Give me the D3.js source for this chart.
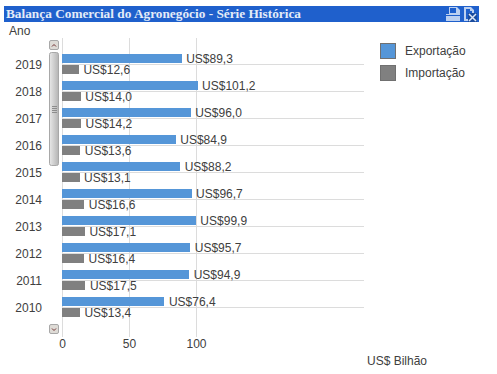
<!DOCTYPE html>
<html>
<head>
<meta charset="utf-8">
<script src="https://cdnjs.cloudflare.com/ajax/libs/d3/7.8.5/d3.min.js"></script>
<style>
  html, body { margin: 0; padding: 0; background: #fff; }
  svg { display: block; }
  text { font-family: "Liberation Sans", Arial, sans-serif; font-size: 12px; fill: #404040; }
</style>
</head>
<body>
<div id="chart"></div>
<script>
const years = ["2019", "2018", "2017", "2016", "2015", "2014", "2013", "2012", "2011", "2010"];
const exportacao = [89.3, 101.2, 96.0, 84.9, 88.2, 96.7, 99.9, 95.7, 94.9, 76.4];
const importacao = [12.6, 14.0, 14.2, 13.6, 13.1, 16.6, 17.1, 16.4, 17.5, 13.4];
const seriesNames = ["Exportação", "Importação"];
const seriesColors = ["#5596D8", "#808080"];
const xTicks = [0, 50, 100];

const width = 497;
const height = 374;

const svg = d3.select("#chart")
  .append("svg")
    .attr("width", width)
    .attr("height", height);

// SCALES
const xScale = d3.scaleLinear().domain([0, 100]).range([62, 196]);
const yScale = d3.scaleBand().domain(years).range([51, 321]);
const groupScale = d3.scaleBand().domain(seriesNames).range([3, 23]).paddingInner(2 / 11);

// HEADER
svg.append("rect")
  .attr("x", 4).attr("y", 6).attr("width", 475).attr("height", 16)
  .attr("fill", "#1F60CC");
svg.append("text")
  .attr("x", 6).attr("y", 18)
  .style("font-family", "'Liberation Serif', serif")
  .style("font-weight", "700")
  .style("font-size", "13.3px")
  .style("fill", "#E4ECF8")
  .text("Balança Comercial do Agronegócio - Série Histórica");

// header icons
const icons = svg.append("g");
icons.append("path").attr("fill", "#BCD0F0").attr("d", "M446 21V14H449V7H457L460 10V21Z");
icons.append("rect").attr("x", 450).attr("y", 8).attr("width", 6).attr("height", 5).attr("fill", "#1F60CC");
icons.append("rect").attr("x", 446).attr("y", 15).attr("width", 14).attr("height", 1).attr("fill", "#1F60CC");
icons.append("path").attr("fill", "#BCD0F0").attr("d", "M464 7H471L474 10V13H472V11H470V9H466V19H468V21H464Z");
icons.append("rect").attr("x", 468).attr("y", 13).attr("width", 9).attr("height", 9).attr("fill", "#1A4C9E");
icons.append("path")
  .attr("d", "M469 14L476 21M476 14L469 21")
  .attr("stroke", "#DCE6F6").attr("stroke-width", 1.5).attr("fill", "none");

// AXIS TITLES
svg.append("text").attr("x", 9).attr("y", 35).text("Ano");
svg.append("text").attr("x", 367).attr("y", 365).text("US$ Bilhão");

// GRID
const grid = svg.append("g").attr("stroke", "#DCDCDC").attr("stroke-width", 1);
xTicks.forEach(t => {
  grid.append("line")
    .attr("x1", xScale(t) + 0.5).attr("x2", xScale(t) + 0.5)
    .attr("y1", 38).attr("y2", 337);
});
years.forEach(y => {
  const cy = Math.floor(yScale(y) + yScale.bandwidth() / 2) + 0.5;
  grid.append("line")
    .attr("x1", 62).attr("x2", 364)
    .attr("y1", cy).attr("y2", cy);
});

// BARS AND VALUE LABELS
const fmt = v => "US$" + v.toFixed(1).replace(".", ",");

[exportacao, importacao].forEach((values, s) => {
  const name = seriesNames[s];
  const g = svg.append("g");
  g.selectAll("rect")
    .data(values)
    .join("rect")
      .attr("x", xScale(0))
      .attr("y", (d, i) => yScale(years[i]) + groupScale(name))
      .attr("width", d => xScale(d) - xScale(0))
      .attr("height", groupScale.bandwidth())
      .attr("shape-rendering", "crispEdges")
      .attr("fill", seriesColors[s]);
  g.selectAll("text")
    .data(values)
    .join("text")
      .attr("x", d => xScale(d) + 4.5)
      .attr("y", (d, i) => yScale(years[i]) + groupScale(name) + groupScale.bandwidth() / 2 + 4.5)
      .text(fmt);
});

// CATEGORY LABELS
svg.append("g").selectAll("text")
  .data(years)
  .join("text")
    .attr("x", 42)
    .attr("y", d => yScale(d) + yScale.bandwidth() / 2 + 4)
    .attr("text-anchor", "end")
    .text(d => d);

// X TICK LABELS
svg.append("g").selectAll("text")
  .data(xTicks)
  .join("text")
    .attr("x", d => xScale(d) + 0.5)
    .attr("y", 348)
    .attr("text-anchor", "middle")
    .text(d => d);

// SCROLLBAR
const scroll = svg.append("g");
const btn = (y, d) => {
  scroll.append("rect")
    .attr("x", 49.5).attr("y", y).attr("width", 9).attr("height", 9).attr("rx", 1.5)
    .attr("fill", "#DEDBD6").attr("stroke", "#A8A8A8");
  scroll.append("path")
    .attr("d", d).attr("fill", "none").attr("stroke", "#703030");
};
btn(40.5, "M52 46.5L54 44.5L56 46.5");
btn(324.5, "M52 328.5L54 330.5L56 328.5");
const thumbGrad = svg.append("defs").append("linearGradient").attr("id", "thumb");
thumbGrad.append("stop").attr("offset", "0").attr("stop-color", "#E8E8E8");
thumbGrad.append("stop").attr("offset", "1").attr("stop-color", "#B4B4B4");
scroll.append("rect")
  .attr("x", 49.5).attr("y", 52.5).attr("width", 9).attr("height", 113).attr("rx", 2)
  .attr("fill", "url(#thumb)").attr("stroke", "#A8A8A8");
[0, 2, 4, 6].forEach(o => {
  scroll.append("line")
    .attr("x1", 52).attr("x2", 57).attr("y1", 106.5 + o).attr("y2", 106.5 + o)
    .attr("stroke", "#8C8C8C");
});

// LEGEND
const legend = svg.append("g");
seriesNames.forEach((name, i) => {
  legend.append("rect")
    .attr("x", 380.5).attr("y", 43.5 + i * 22).attr("width", 15).attr("height", 15)
    .attr("fill", seriesColors[i]).attr("stroke", "#707070");
  legend.append("text")
    .attr("x", 405).attr("y", 55 + i * 22)
    .text(name);
});
</script>
</body>
</html>
